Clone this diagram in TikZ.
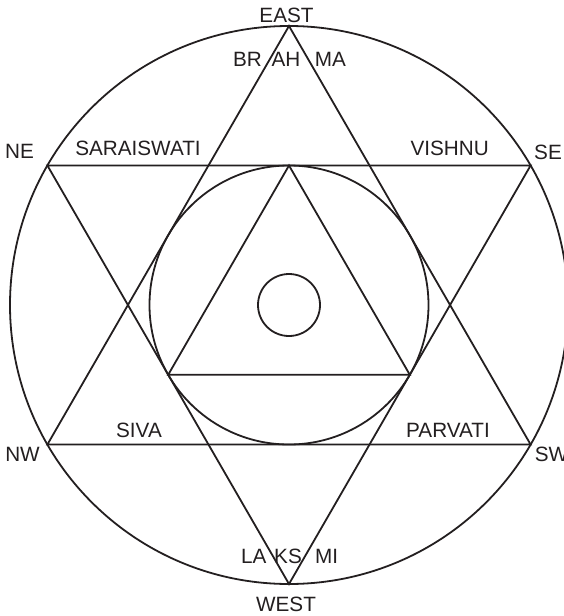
\documentclass[tikz,border=0pt]{standalone}
\usepackage{fontspec}
\setmainfont{Liberation Sans}
\definecolor{ink}{RGB}{35,31,32}
\begin{document}
\begin{tikzpicture}[x=1pt,y=-1pt,
  line/.style={draw=ink,line width=1.8pt,line join=miter},
  lbl/.style={text=ink,inner sep=0pt,anchor=base,font=\fontsize{20.7}{24}\selectfont}]
\useasboundingbox (0,0) rectangle (564,616);
% key points
\coordinate (O) at (289,305);
\coordinate (E) at (289,26);
\coordinate (W) at (289,584);
\coordinate (NE) at (47.4,165.5);
\coordinate (SE) at (530.6,165.5);
\coordinate (NW) at (47.4,444.5);
\coordinate (SW) at (530.6,444.5);
\coordinate (A) at (289,165.5);
\coordinate (B) at (168.2,374.75);
\coordinate (C) at (409.8,374.75);
% circles
\draw[line] (O) circle[radius=279];
\draw[line] (O) circle[radius=139.5];
\draw[line] (O) circle[radius=31];
% hexagram
\draw[line] (E) -- (NW) -- (SW) -- cycle;
\draw[line] (W) -- (NE) -- (SE) -- cycle;
% inner triangle
\draw[line] (A) -- (B) -- (C) -- cycle;
% labels
\node[lbl] (east) at (286.5,22.7) {EAST};
\node[lbl] (west) at (286,611.7) {WEST};
\node[lbl] (ne) at (19.5,158.5) {NE};
\node[lbl] (se) at (548,159) {SE};
\node[lbl] (nw) at (22.5,461) {NW};
\node[lbl] (sw) at (551.5,461) {SW};
\node[lbl] (br) at (247.5,66.7) {BR};
\node[lbl] (ah) at (286,66.7) {AH};
\node[lbl] (ma) at (330.3,66.7) {MA};
\node[lbl] (la) at (253.7,563.3) {LA};
\node[lbl] (ks) at (288,563.3) {KS};
\node[lbl] (mi) at (326.7,563.3) {MI};
\node[lbl] (sar) at (138,155) {SARAISWATI};
\node[lbl] (vis) at (449.7,155) {VISHNU};
\node[lbl] (siva) at (139,437) {SIVA};
\node[lbl] (par) at (448,437) {PARVATI};
\end{tikzpicture}
\end{document}
